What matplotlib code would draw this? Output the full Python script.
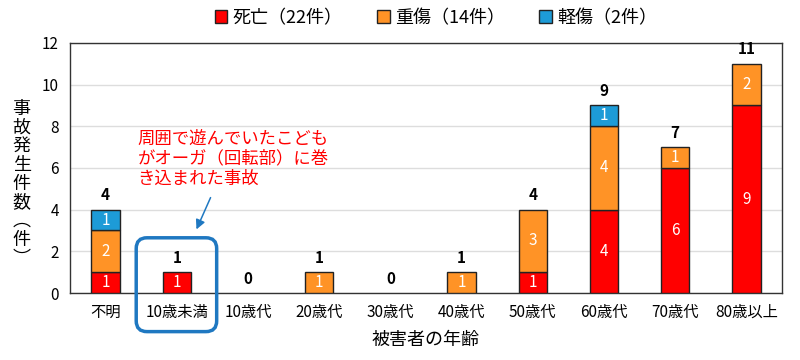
import numpy as np
import matplotlib
matplotlib.use('Agg')
import matplotlib.pyplot as plt
from matplotlib.patches import FancyBboxPatch

plt.rcParams['font.family'] = ['Noto Sans CJK JP', 'DejaVu Sans']

#categories and counts
ages = ['不明', '10歳未満', '10歳代', '20歳代', '30歳代', '40歳代', '50歳代', '60歳代', '70歳代', '80歳以上']
death = [1, 1, 0, 0, 0, 0, 1, 4, 6, 9]
serious = [2, 0, 0, 1, 0, 1, 3, 4, 1, 2]
minor = [1, 0, 0, 0, 0, 0, 0, 1, 0, 0]
series_labels = ['死亡（22件）', '重傷（14件）', '軽傷（2件）']
colors = ['#FF0000', '#FF9326', '#1D9BD7']

fig = plt.figure(figsize=(8, 3.6), dpi=100)
ax = fig.add_axes([0.0875, 0.186, 0.89, 0.695])

x = np.arange(len(ages))
w = 0.4
bottom = np.zeros(len(ages))
for vals, c, lab in zip([death, serious, minor], colors, series_labels):
    vals = np.array(vals)
    keep = vals > 0
    ax.bar(x[keep], vals[keep], w, bottom=bottom[keep], color=c, edgecolor='#222222',
           linewidth=1, label=lab, zorder=3)
    for xi, v, b in zip(x, vals, bottom):
        if v > 0:
            ax.text(xi, b + v / 2, str(v), ha='center', va='center', color='white', fontsize=11, zorder=4)
    bottom += vals

#totals above bars
for xi, t in zip(x, bottom):
    ax.text(xi, t + 0.3, str(int(t)), ha='center', va='bottom', fontsize=11, fontweight='bold')

ax.set_xlim(-0.5, len(ages) - 0.5)
ax.set_ylim(0, 12)
ax.set_yticks(range(0, 13, 2))
ax.set_xticks(x)
ax.set_xticklabels(ages, fontsize=11)
ax.tick_params(axis='y', labelsize=11, length=0, pad=8)
ax.tick_params(axis='x', length=0, pad=8)
ax.grid(axis='y', color='#dddddd', linewidth=1, zorder=0)
for s in ax.spines.values():
    s.set_color('#333333')
    s.set_linewidth(1)

ax.set_xlabel('被害者の年齢', fontsize=13, labelpad=7)
fig.text(0.027, 0.49, '事\n故\n発\n生\n件\n数\n︵\n件\n︶', ha='center', va='center',
         fontsize=13, linespacing=1.05)

#annotation
ax.text(0.45, 6.45, '周囲で遊んでいたこども\nがオーガ（回転部）に巻\nき込まれた事故', color='#FF0000',
        fontsize=12.5, ha='left', va='center', linespacing=1.15)
ax.annotate('', xy=(1.26, 2.93), xytext=(1.49, 4.7),
            arrowprops=dict(arrowstyle='-|>', color='#1F78C1', lw=1.1, mutation_scale=14))
box = FancyBboxPatch((0.43, -1.85), 1.13, 4.5, boxstyle='round,pad=0,rounding_size=0.15',
                     transform=ax.transData, fill=False, edgecolor='#1F78C1', linewidth=2.5,
                     clip_on=False, zorder=5, mutation_aspect=12 / 250 * 71.2 / 1.0)
ax.add_patch(box)

fig.legend(loc='upper center', bbox_to_anchor=(0.545, 1.02), ncol=3, frameon=False, fontsize=13,
           handlelength=0.7, handleheight=0.7, handletextpad=0.3, columnspacing=1.9)

fig.savefig('out.png', dpi=100)
